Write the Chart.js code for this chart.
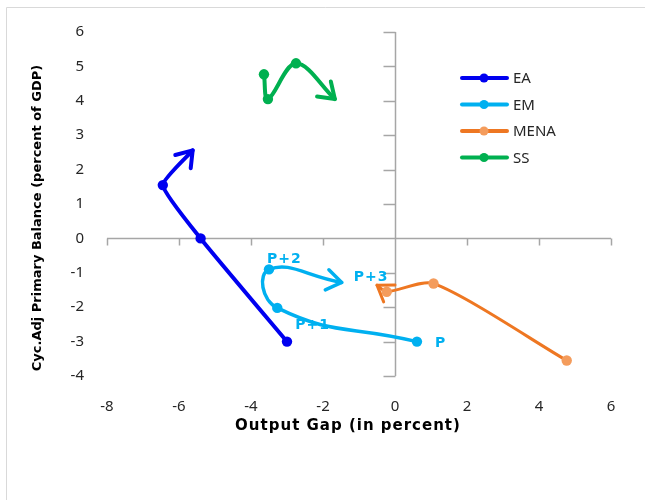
<!DOCTYPE html>
<html>
<head>
<meta charset="utf-8">
<script src="https://cdn.jsdelivr.net/npm/chart.js@4/dist/chart.umd.min.js"></script>
<style>
  html, body { margin: 0; padding: 0; background: #ffffff; }
  #wrap { width: 645px; height: 500px; position: relative; }
</style>
</head>
<body>
<div id="wrap"><canvas id="c" width="645" height="500"></canvas></div>
<script>
// ---- data ----
const seriesNames = ['EA', 'EM', 'MENA', 'SS'];
const eaX   = [-3.0, -5.4, -6.45, -5.62];
const eaY   = [-3.0, 0.0, 1.55, 2.56];
const emX   = [0.61, -3.27, -3.5, -1.48];
const emY   = [-3.0, -2.02, -0.9, -1.28];
const menaX = [4.77, 1.07, -0.23, -0.5];
const menaY = [-3.55, -1.31, -1.55, -1.36];
const ssX   = [-3.64, -3.53, -2.75, -1.67];
const ssY   = [4.77, 4.05, 5.09, 4.05];
const emPointLabels = ['P', 'P+1', 'P+2', 'P+3'];
const xTickValues = [-8, -6, -4, -2, 0, 2, 4, 6];
const yTickValues = [-4, -3, -2, -1, 0, 1, 2, 3, 4, 5, 6];
const xTitle = 'Output Gap (in percent)';
const yTitle = 'Cyc.Adj Primary Balance (percent of GDP)';

const colors = ['#0000F0', '#00B0F0', '#EE7722', '#00B050'];
const pointColors = ['#0000F0', '#00B0F0', '#F49C5C', '#00B050'];
const widths = [4, 3.5, 3, 4];
const tensions = [0.15, 0.5, 0.25, 0.35];

function pts(xs, ys) { return xs.map((x, i) => ({ x: x, y: ys[i] })); }
const allX = [eaX, emX, menaX, ssX];
const allY = [eaY, emY, menaY, ssY];

const datasets = seriesNames.map((name, i) => ({
  label: name,
  data: pts(allX[i], allY[i]),
  borderColor: colors[i],
  backgroundColor: pointColors[i],
  pointBackgroundColor: pointColors[i],
  pointBorderColor: pointColors[i],
  pointBorderWidth: 0,
  pointRadius: allX[i].map((_, k) => k === allX[i].length - 1 ? 0 : 5.2),
  pointHoverRadius: 0,
  borderWidth: widths[i],
  showLine: true,
  tension: tensions[i],
  borderCapStyle: 'round',
  borderJoinStyle: 'round'
}));

const FONT = '"Noto Sans", "DejaVu Sans", sans-serif';

const decor = {
  id: 'decor',
  beforeDraw(chart) {
    const ctx = chart.ctx;
    ctx.save();
    ctx.strokeStyle = '#D9D9D9';
    ctx.lineWidth = 1;
    ctx.beginPath();
    ctx.moveTo(6.5, 500); ctx.lineTo(6.5, 7.5); ctx.lineTo(645, 7.5);
    ctx.stroke();
    ctx.restore();
  },
  beforeDatasetsDraw(chart) {
    const ctx = chart.ctx;
    const xs = chart.scales.x, ys = chart.scales.y;
    const x0 = Math.round(xs.getPixelForValue(0)) + 0.5;
    const y0 = Math.round(ys.getPixelForValue(0)) + 0.5;
    ctx.save();
    ctx.strokeStyle = '#A6A6A6';
    ctx.lineWidth = 1.5;
    ctx.beginPath();
    ctx.moveTo(xs.getPixelForValue(xTickValues[0]), y0);
    ctx.lineTo(xs.getPixelForValue(xTickValues[xTickValues.length - 1]), y0);
    xTickValues.forEach(v => {
      const px = Math.round(xs.getPixelForValue(v)) + 0.5;
      ctx.moveTo(px, y0); ctx.lineTo(px, y0 + 7);
    });
    ctx.moveTo(x0, ys.getPixelForValue(yTickValues[0]));
    ctx.lineTo(x0, ys.getPixelForValue(yTickValues[yTickValues.length - 1]));
    yTickValues.forEach(v => {
      const py = Math.round(ys.getPixelForValue(v)) + 0.5;
      ctx.moveTo(x0, py); ctx.lineTo(x0 - 12, py);
    });
    ctx.stroke();
    ctx.restore();
  },
  afterDatasetsDraw(chart) {
    const ctx = chart.ctx;
    chart.data.datasets.forEach((ds, i) => {
      const meta = chart.getDatasetMeta(i);
      const last = meta.data[meta.data.length - 1];
      const prev = meta.data[meta.data.length - 2];
      let dx = last.x - (last.cp1x !== undefined ? last.cp1x : prev.x);
      let dy = last.y - (last.cp1y !== undefined ? last.cp1y : prev.y);
      if (Math.abs(dx) + Math.abs(dy) < 0.01) { dx = last.x - prev.x; dy = last.y - prev.y; }
      const a = Math.atan2(dy, dx);
      const L = 18, spread = 0.6;
      ctx.save();
      ctx.strokeStyle = ds.borderColor;
      ctx.lineWidth = ds.borderWidth;
      ctx.lineCap = 'round';
      ctx.lineJoin = 'round';
      ctx.beginPath();
      ctx.moveTo(last.x - L * Math.cos(a - spread), last.y - L * Math.sin(a - spread));
      ctx.lineTo(last.x, last.y);
      ctx.lineTo(last.x - L * Math.cos(a + spread), last.y - L * Math.sin(a + spread));
      ctx.stroke();
      ctx.restore();
    });
    const emMeta = chart.getDatasetMeta(1);
    const offsets = [[18, 2], [18, 17], [-2, -10], [12, -5]];
    ctx.save();
    ctx.fillStyle = colors[1];
    ctx.font = 'bold 14px "DejaVu Sans", sans-serif';
    if ('letterSpacing' in ctx) ctx.letterSpacing = '1px';
    ctx.textBaseline = 'middle';
    ctx.textAlign = 'left';
    emPointLabels.forEach((t, k) => {
      const p = emMeta.data[k];
      ctx.fillText(t, p.x + offsets[k][0], p.y + offsets[k][1]);
    });
    ctx.restore();
    ctx.save();
    const lx = 462, ly = 78, gap = 26.5;
    chart.data.datasets.forEach((ds, i) => {
      const y = ly + i * gap;
      ctx.strokeStyle = ds.borderColor;
      ctx.lineWidth = 4;
      ctx.lineCap = 'round';
      ctx.beginPath(); ctx.moveTo(lx, y); ctx.lineTo(lx + 45, y); ctx.stroke();
      ctx.fillStyle = pointColors[i];
      ctx.beginPath(); ctx.arc(lx + 22, y, 4.5, 0, Math.PI * 2); ctx.fill();
      ctx.fillStyle = '#262626';
      ctx.font = '15px ' + FONT;
      ctx.textBaseline = 'middle';
      ctx.fillText(ds.label, lx + 51, y + 1);
    });
    ctx.restore();
    ctx.save();
    ctx.fillStyle = '#000000';
    ctx.font = 'bold 15px "DejaVu Sans", sans-serif';
    if ('letterSpacing' in ctx) ctx.letterSpacing = '1px';
    ctx.textAlign = 'center';
    ctx.textBaseline = 'middle';
    ctx.fillText(xTitle, 348, 426);
    if ('letterSpacing' in ctx) ctx.letterSpacing = '0px';
    ctx.translate(38, 218);
    ctx.rotate(-Math.PI / 2);
    ctx.font = 'bold 13px "DejaVu Sans", sans-serif';
    ctx.fillText(yTitle, 0, 0);
    ctx.restore();
  }
};

new Chart(document.getElementById('c'), {
  type: 'scatter',
  data: { datasets: datasets },
  options: {
    responsive: false,
    animation: false,
    events: [],
    layout: { padding: { left: 0, right: 34, top: 30, bottom: 0 } },
    plugins: { legend: { display: false }, tooltip: { enabled: false } },
    scales: {
      x: {
        type: 'linear', min: -8, max: 6,
        grid: { display: false, drawTicks: false },
        border: { display: false },
        afterFit(s) { s.height = 124; },
        afterBuildTicks(s) { s.ticks = xTickValues.map(v => ({ value: v })); },
        ticks: { padding: 22, color: '#262626', font: { family: FONT, size: 15 } }
      },
      y: {
        type: 'linear', min: -4, max: 6,
        grid: { display: false, drawTicks: false },
        border: { display: false },
        afterFit(s) { s.width = 107; },
        afterBuildTicks(s) { s.ticks = yTickValues.map(v => ({ value: v })); },
        ticks: { padding: 23, color: '#262626', font: { family: FONT, size: 15 } }
      }
    }
  },
  plugins: [decor]
});
</script>
</body>
</html>
